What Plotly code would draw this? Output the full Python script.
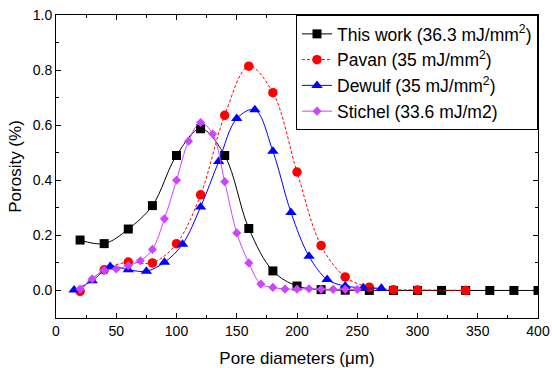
import plotly.graph_objects as go

# ---- data ----
this_x = [20, 40, 60, 80, 100, 120, 140, 160, 180, 200, 220, 240, 260, 280, 300, 320, 340, 360, 380, 400]
this_y = [0.183, 0.170, 0.223, 0.308, 0.490, 0.587, 0.490, 0.225, 0.071, 0.016, 0.003, 0.001,
          0.0, 0.0, 0.0, 0.0, 0.0, 0.0, 0.0, 0.0]

pavan_x = [20, 40, 60, 80, 100, 120, 140, 160, 180, 200, 220, 240, 260, 280, 300, 340]
pavan_y = [-0.003, 0.075, 0.103, 0.100, 0.170, 0.347, 0.636, 0.814, 0.718, 0.430, 0.163, 0.049,
           0.012, 0.003, 0.002, 0.0]

dewulf_x = [15, 30, 45, 60, 75, 90, 105, 120, 135, 150, 165, 180, 195, 210, 225, 240, 255, 270]
dewulf_y = [0.002, 0.035, 0.087, 0.075, 0.070, 0.102, 0.168, 0.303, 0.468, 0.624, 0.656, 0.505,
            0.283, 0.124, 0.040, 0.016, 0.010, 0.008]

stichel_x = [20, 30, 40, 50, 60, 70, 80, 90, 100, 110, 120, 130, 140, 150, 160, 170, 180,
             190, 200, 210, 220, 230, 240, 250]
stichel_y = [0.005, 0.042, 0.073, 0.078, 0.090, 0.108, 0.149, 0.260, 0.400, 0.542, 0.610, 0.568,
             0.395, 0.209, 0.100, 0.023, 0.011, 0.005, 0.005, 0.006, 0.004, 0.004, 0.004, 0.004]

names = ["This work (36.3 mJ/mm<sup>2</sup>)", "Pavan (35 mJ/mm<sup>2</sup>)",
         "Dewulf (35 mJ/mm<sup>2</sup>)", "Stichel (33.6 mJ/m2)"]

FONT = "Liberation Sans, Arial, sans-serif"

fig = go.Figure()
fig.add_trace(go.Scatter(x=this_x, y=this_y, name=names[0], mode="lines+markers",
                         line=dict(color="black", width=1, shape="spline", smoothing=1),
                         marker=dict(symbol="square", size=9, color="black")))
fig.add_trace(go.Scatter(x=pavan_x, y=pavan_y, name=names[1], mode="lines+markers",
                         line=dict(color="red", width=1, shape="spline", smoothing=1, dash="3px,2px"),
                         marker=dict(symbol="circle", size=9.5, color="red")))
fig.add_trace(go.Scatter(x=dewulf_x, y=dewulf_y, name=names[2], mode="lines+markers",
                         line=dict(color="blue", width=1, shape="spline", smoothing=1),
                         marker=dict(symbol="triangle-up", size=10, color="blue")))
fig.add_trace(go.Scatter(x=stichel_x, y=stichel_y, name=names[3], mode="lines+markers",
                         line=dict(color="#CC44FF", width=1, shape="spline", smoothing=1),
                         marker=dict(symbol="diamond", size=7, color="#CC44FF")))

axis_common = dict(showline=True, linecolor="black", linewidth=1, mirror="allticks",
                   ticks="inside", ticklen=5, tickcolor="black", tickwidth=1,
                   showgrid=False, zeroline=False, automargin=False,
                   tickfont=dict(family=FONT, size=14, color="black"))

fig.update_xaxes(range=[0, 400], dtick=50, tick0=0,
                 minor=dict(ticks="inside", ticklen=3, dtick=25, tick0=0, tickcolor="black", showgrid=False),
                 title=dict(text="Pore diameters (μm)", font=dict(family=FONT, size=17, color="black"),
                            standoff=14),
                 **axis_common)
fig.update_yaxes(range=[-0.1, 1.0], dtick=0.2, tick0=0, tickformat=".1f",
                 minor=dict(ticks="inside", ticklen=3, dtick=0.1, tick0=0, tickcolor="black", showgrid=False),
                 title=dict(text="Porosity (%)", font=dict(family=FONT, size=17, color="black"),
                            standoff=6),
                 **axis_common)

fig.update_layout(
    width=552, height=368,
    margin=dict(l=56, r=14, t=15, b=50, autoexpand=False),
    paper_bgcolor="white", plot_bgcolor="white",
    font=dict(family=FONT, color="black"),
    showlegend=True,
    legend=dict(x=1, y=1, xanchor="right", yanchor="top",
                bgcolor="white", bordercolor="black", borderwidth=1,
                font=dict(family=FONT, size=17.5, color="black"),
                tracegroupgap=0, itemwidth=30),
)

fig.write_html("out.html", config={"displayModeBar": False},
               post_script="document.body.style.margin='0';document.body.style.overflow='hidden';")
